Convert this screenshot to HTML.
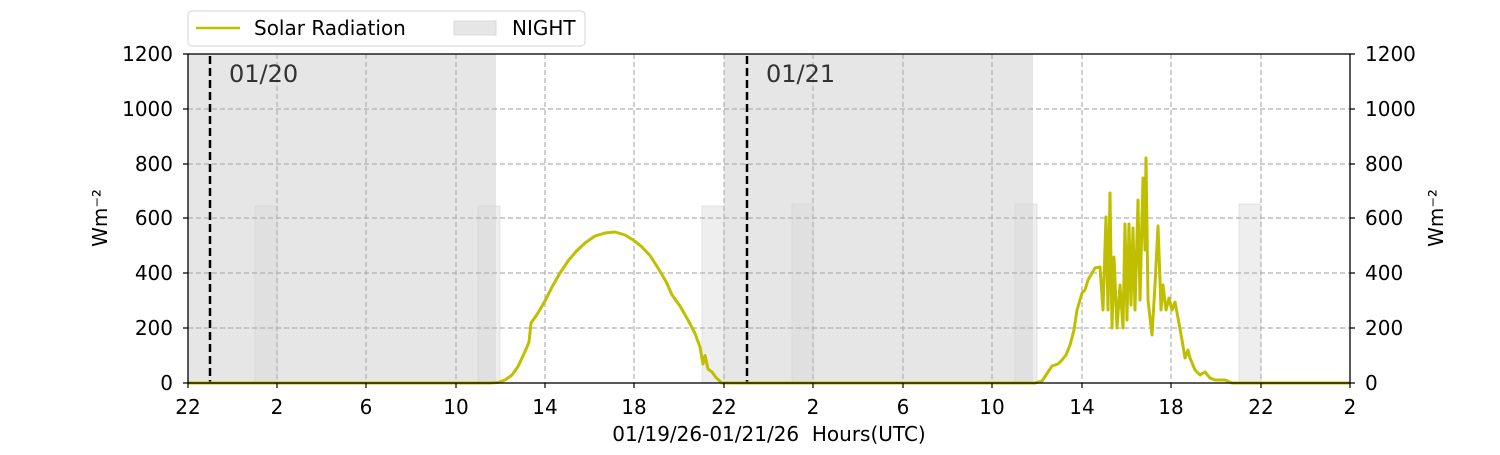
<!DOCTYPE html>
<html><head><meta charset="utf-8"><style>
html,body{margin:0;padding:0;background:#fff}
svg text{font-family:"DejaVu Sans","Liberation Sans",sans-serif;font-size:20px;fill:#000}
</style></head><body>
<svg width="1500" height="450" xmlns="http://www.w3.org/2000/svg">
<rect x="188" y="54" width="308" height="329" fill="#e6e6e6"/>
<rect x="724" y="54" width="309" height="329" fill="#e6e6e6"/>
<g fill="#d9d9d9" fill-opacity="0.45" stroke="#cfcfcf" stroke-opacity="0.5">
<rect x="255" y="206" width="22" height="177"/>
<rect x="478" y="206" width="22" height="177"/>
<rect x="702" y="206" width="22" height="177"/>
<rect x="792" y="204" width="21" height="179"/>
<rect x="1015" y="204" width="22" height="179"/>
<rect x="1239" y="204" width="22" height="179"/>
</g>
<g stroke="#b0b0b0" stroke-dasharray="5,3" stroke-width="1.2">
<line x1="188" x2="1350" y1="328" y2="328"/><line x1="188" x2="1350" y1="273" y2="273"/>
<line x1="188" x2="1350" y1="218" y2="218"/><line x1="188" x2="1350" y1="164" y2="164"/>
<line x1="188" x2="1350" y1="109" y2="109"/>
<line x1="277" x2="277" y1="54" y2="383"/><line x1="366" x2="366" y1="54" y2="383"/>
<line x1="456" x2="456" y1="54" y2="383"/><line x1="545" x2="545" y1="54" y2="383"/>
<line x1="634" x2="634" y1="54" y2="383"/><line x1="724" x2="724" y1="54" y2="383"/>
<line x1="813" x2="813" y1="54" y2="383"/><line x1="903" x2="903" y1="54" y2="383"/>
<line x1="992" x2="992" y1="54" y2="383"/><line x1="1082" x2="1082" y1="54" y2="383"/>
<line x1="1171" x2="1171" y1="54" y2="383"/><line x1="1261" x2="1261" y1="54" y2="383"/>
</g>
<g stroke="#000" stroke-width="2.5" stroke-dasharray="8,4">
<line x1="210" x2="210" y1="56" y2="383"/><line x1="747" x2="747" y1="56" y2="383"/>
</g>
<text x="229" y="82" style="font-size:24px;fill:#333">01/20</text>
<text x="766" y="82" style="font-size:24px;fill:#333">01/21</text>
<g fill="none" stroke="#bfbf00" stroke-width="3" stroke-linejoin="round">
<polyline points="188,383 490,383 498,382.5 505,380 512,375 518,366.5 522,358 527,347 529,342 531,323 537,314.5 545,301 552,287 560,273 568,261 576,251.5 585,243 595,236 605,233 615,232 625,235 634,240.5 642,247 650,255.5 658,268 666,281.5 672,295 680,306 688,320 695,333.5 700,347 703,364 705,355.5 708,369 712,372 716,377.5 722,383 1035,383 1042,381 1052,366 1058,364 1062,360 1066,355 1070,345 1074,330 1077,310 1080,300 1082,293 1085,290 1088,280 1092,273 1095,268 1100,267 1103,310 1106,217 1108,310 1110,193 1112,328 1114,257 1117,328 1120,285 1123,328 1125,224 1127,320 1129,224 1131,305 1133,228 1135,310 1138,200 1140,300 1143,178 1145,250 1146,158 1148,300 1152,335 1155,285 1158,226 1160,280 1161,310 1163,285 1166,310 1169,298 1172,310 1175,302 1178,318 1182,340 1185,358 1188,350 1190,358 1195,370 1200,375 1205,372 1210,378 1215,380 1225,380 1232,383 1350,383"/>
</g>
<rect x="188" y="54" width="1162" height="329" fill="none" stroke="#000" stroke-width="1.3"/>
<g stroke="#000" stroke-width="1.2">
<path d="M188,383v5M277,383v5M366,383v5M456,383v5M545,383v5M634,383v5M724,383v5M813,383v5M903,383v5M992,383v5M1082,383v5M1171,383v5M1261,383v5M1350,383v5"/>
<path d="M183,383h5M183,328h5M183,273h5M183,218h5M183,164h5M183,109h5M183,54h5"/>
<path d="M1350,383h5M1350,328h5M1350,273h5M1350,218h5M1350,164h5M1350,109h5M1350,54h5"/>
</g>
<g text-anchor="middle">
<text x="188" y="414">22</text><text x="277" y="414">2</text><text x="366" y="414">6</text>
<text x="456" y="414">10</text><text x="545" y="414">14</text><text x="634" y="414">18</text>
<text x="724" y="414">22</text><text x="813" y="414">2</text><text x="903" y="414">6</text>
<text x="992" y="414">10</text><text x="1082" y="414">14</text><text x="1171" y="414">18</text>
<text x="1261" y="414">22</text><text x="1350" y="414">2</text>
<text x="769" y="441" xml:space="preserve">01/19/26-01/21/26  Hours(UTC)</text>
</g>
<g text-anchor="end">
<text x="173" y="390">0</text><text x="173" y="335">200</text><text x="173" y="280">400</text>
<text x="173" y="225">600</text><text x="173" y="171">800</text><text x="173" y="116">1000</text>
<text x="173" y="61">1200</text>
</g>
<g text-anchor="start">
<text x="1365" y="390">0</text><text x="1365" y="335">200</text><text x="1365" y="280">400</text>
<text x="1365" y="225">600</text><text x="1365" y="171">800</text><text x="1365" y="116">1000</text>
<text x="1365" y="61">1200</text>
</g>
<text transform="translate(107,218) rotate(-90)" text-anchor="middle">Wm⁻²</text>
<text transform="translate(1443,218) rotate(-90)" text-anchor="middle">Wm⁻²</text>
<rect x="188" y="11" width="397" height="35" rx="4" fill="#fff" stroke="#d5d5d5"/>
<line x1="196" x2="240" y1="28" y2="28" stroke="#bfbf00" stroke-width="2.5"/>
<text x="254" y="35">Solar Radiation</text>
<rect x="454" y="21" width="42" height="14" fill="#e6e6e6" stroke="#d9d9d9"/>
<text x="512" y="35">NIGHT</text>
</svg>
</body></html>
